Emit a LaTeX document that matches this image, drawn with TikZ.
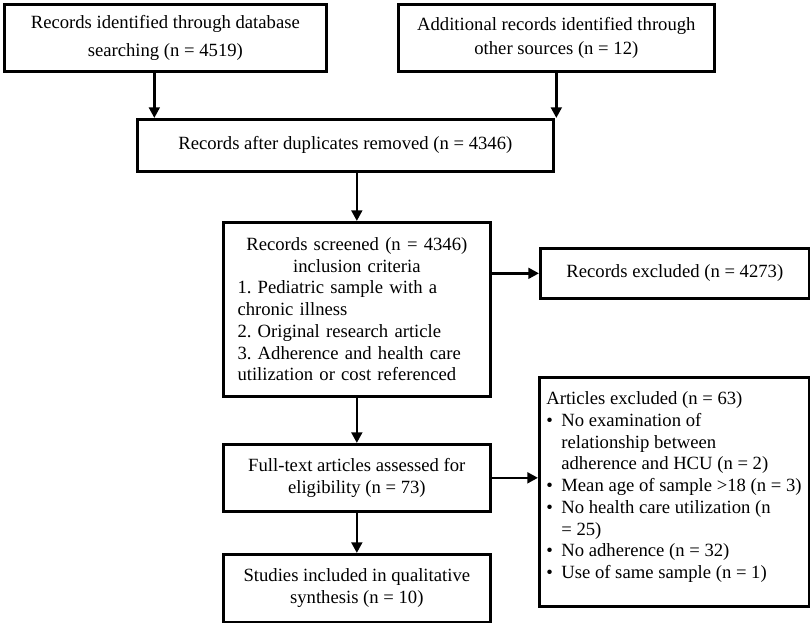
\documentclass[tikz,border=0pt]{standalone}
\usepackage{fontspec}
\setmainfont{Liberation Serif}
\usetikzlibrary{arrows.meta}
\frenchspacing

\tikzset{every picture/.style={line width=0.75pt}}
\tikzset{
  box/.style={draw, line width=2pt, anchor=north west, align=center, inner sep=0pt,
    font=\fontsize{14}{16.3}\selectfont\frenchspacing},
  arrow/.style={line width=2pt, -{Triangle[length=8pt,width=8pt]}},
}
\newcommand{\bul}{\makebox[11.25pt][l]{\textbullet}}
\newcommand{\ind}{\hspace*{11.25pt}}

\begin{document}
\begin{tikzpicture}[x=0.75pt,y=0.75pt,yscale=-1]
\useasboundingbox (0,0) rectangle (810,623);

\node [box, minimum width=322*0.75pt, minimum height=67*0.75pt, font=\fontsize{14}{20.5}\selectfont] (db) at (3,3) {Records identified through database\\searching (n = 4519)};
\node [box, minimum width=316*0.75pt, minimum height=67*0.75pt, font=\fontsize{14}{17.5}\selectfont] (other) at (397,3) {Additional records identified through\\other sources (n = 12)};
\node [box, minimum width=416*0.75pt, minimum height=52*0.75pt] (dup) at (136,118) {Records after duplicates removed (n = 4346)};
\node [box, minimum width=267*0.75pt, minimum height=174*0.75pt, text width=179pt, align=left] (screened) at (222,221) {{\centering Records screened (n = 4346)\\inclusion criteria\par}1. Pediatric sample with a\\chronic illness\\2. Original research article\\3. Adherence and health care\\utilization or cost referenced};
\node [box, minimum width=269*0.75pt, minimum height=50*0.75pt] (excluded) at (539,247) {Records excluded (n = 4273)};
\node [box, minimum width=267*0.75pt, minimum height=67*0.75pt] (fulltext) at (222,443) {Full-text articles assessed for\\eligibility (n = 73)};
\node [box, minimum width=267*0.75pt, minimum height=68*0.75pt] (included) at (222,553) {Studies included in qualitative\\synthesis (n = 10)};
\node [box, minimum width=270*0.75pt, minimum height=229*0.75pt] (articles) at (538,376) {\parbox[c][150pt][t]{192pt}{\raggedright
  Articles excluded (n = 63)\\
  \bul No examination of\\
  \ind relationship between\\
  \ind adherence and HCU (n = 2)\\
  \bul Mean age of sample >18 (n = 3)\\
  \bul No health care utilization (n\\
  \ind = 25)\\
  \bul No adherence (n = 32)\\
  \bul Use of same sample (n = 1)}};

\coordinate (dbout) at ([xshift=-8.25pt]db.south);
\draw [arrow] (dbout) -- (dbout |- dup.north);
\draw [arrow] (other.south) -- (other.south |- dup.north);
\draw [arrow] (screened.north |- dup.south) -- (screened.north);
\draw [arrow] (screened.east |- excluded.west) -- (excluded.west);
\draw [arrow] (screened.south) -- (fulltext.north);
\draw [arrow] (fulltext.east) -- (fulltext.east -| articles.west);
\draw [arrow] (fulltext.south) -- (included.north);

\end{tikzpicture}
\end{document}
